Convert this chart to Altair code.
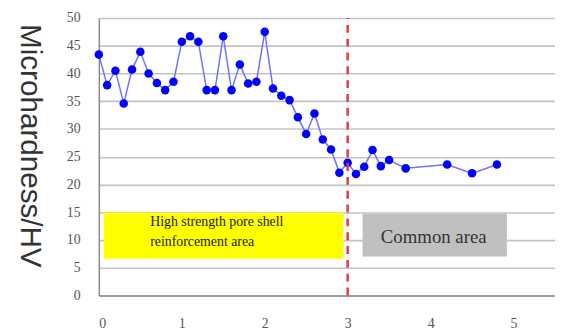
import altair as alt
import pandas as pd

# Data
depth = [0.0, 0.1, 0.2, 0.3, 0.4, 0.5, 0.6, 0.7, 0.8, 0.9,
         1.0, 1.1, 1.2, 1.3, 1.4, 1.5, 1.6, 1.7, 1.8, 1.9,
         2.0, 2.1, 2.2, 2.3, 2.4, 2.5, 2.6, 2.7, 2.8, 2.9,
         3.0, 3.1, 3.2, 3.3, 3.4, 3.5, 3.7, 4.2, 4.5, 4.8]
hardness = [43.4, 37.9, 40.5, 34.6, 40.7, 43.9, 40.0, 38.3, 37.0, 38.5,
            45.7, 46.7, 45.7, 37.0, 37.0, 46.7, 37.0, 41.6, 38.2, 38.5,
            47.5, 37.3, 36.0, 35.2, 32.1, 29.1, 32.8, 28.1, 26.3, 22.1,
            23.9, 21.9, 23.2, 26.2, 23.3, 24.4, 22.9, 23.6, 22.0, 23.6]

x_ticks = [0, 1, 2, 3, 4, 5]
y_ticks = [0, 5, 10, 15, 20, 25, 30, 35, 40, 45, 50]

boundary_x = [3.0]
zone_names = ["High strength pore shell reinforcement area", "Common area"]
zone_x1 = [0.06, 3.18]
zone_x2 = [2.95, 4.92]
zone_y1 = [6.6, 7.0]
zone_y2 = [14.9, 14.7]
zone_colors = ["#ffff00", "#c0c0c0"]

df = pd.DataFrame({"x": depth, "y": hardness})
zones = pd.DataFrame({"name": zone_names, "x1": zone_x1, "x2": zone_x2,
                      "y1": zone_y1, "y2": zone_y2, "color": zone_colors})

xscale = alt.Scale(domain=[0, 5.5], nice=False, zero=False)
yscale = alt.Scale(domain=[0, 50], nice=False)

xaxis = alt.Axis(values=x_ticks, title=None, grid=False, ticks=False,
                 labelFont="Liberation Serif", labelFontSize=14, labelColor="#555555",
                 labelPadding=21, domainColor="#8a8a8a", domainWidth=1.5, format="d",
                 labelOverlap=False)
yaxis = alt.Axis(values=y_ticks, title="Microhardness/HV", grid=True, ticks=False,
                 gridColor="#c4c4c4", gridWidth=1.6, labelOverlap=False,
                 labelFont="Liberation Serif", labelFontSize=14, labelColor="#555555",
                 labelPadding=19, domainColor="#8a8a8a", domainWidth=1.5,
                 titleFont="Liberation Sans", titleFontSize=30, titleFontWeight="normal",
                 titleColor="#333333", titleAngle=90, titleAlign="center",
                 titleBaseline="middle", titleX=-70, titleY=129)


def X(field):
    return alt.X(field, scale=xscale, axis=xaxis)


def Y(field):
    return alt.Y(field, scale=yscale, axis=yaxis)


base = alt.Chart(df)

rects = alt.Chart(zones).mark_rect().encode(
    x=X("x1:Q"), x2="x2:Q", y=Y("y1:Q"), y2="y2:Q",
    color=alt.Color("color:N", scale=None),
)

text_df = pd.DataFrame({"x": [0.62], "y": [13.2],
                        "t": [["High strength pore shell", "reinforcement area"]]})
text1 = alt.Chart(text_df).mark_text(
    align="left", baseline="middle", font="Liberation Serif", fontSize=14,
    color="#1a1a00", lineHeight=20
).encode(x=X("x:Q"), y=Y("y:Q"), text="t")

text2_df = pd.DataFrame({"x": [3.40], "y": [10.6], "t": ["Common area"]})
text2 = alt.Chart(text2_df).mark_text(
    align="left", baseline="middle", font="Liberation Serif", fontSize=19,
    color="#333333"
).encode(x=X("x:Q"), y=Y("y:Q"), text="t")

line = base.mark_line(color="#7070ff", strokeWidth=1.5).encode(x=X("x:Q"), y=Y("y:Q"))
points = base.mark_circle(color="#0000ff", size=75, opacity=1).encode(x=X("x:Q"), y=Y("y:Q"))

rule_df = pd.DataFrame({"x": boundary_x, "y1": [0], "y2": [50]})
rule = alt.Chart(rule_df).mark_rule(color="#e8383d", strokeWidth=2.5,
                                    strokeDash=[8, 6]).encode(
    x=X("x:Q"), y=Y("y1:Q"), y2="y2:Q")

chart = alt.layer(rects, text1, text2, line, points, rule).properties(
    width=462, height=281,
    autosize=alt.AutoSizeParams(type="none"),
    padding={"left": 92, "top": 8, "right": 0, "bottom": 40},
).configure_view(stroke=None).configure_axis(
    labelFont="Liberation Serif", labelFontSize=14, labelColor="#555555"
)

chart.save("out.html", embed_options={"renderer": "svg", "actions": False})
